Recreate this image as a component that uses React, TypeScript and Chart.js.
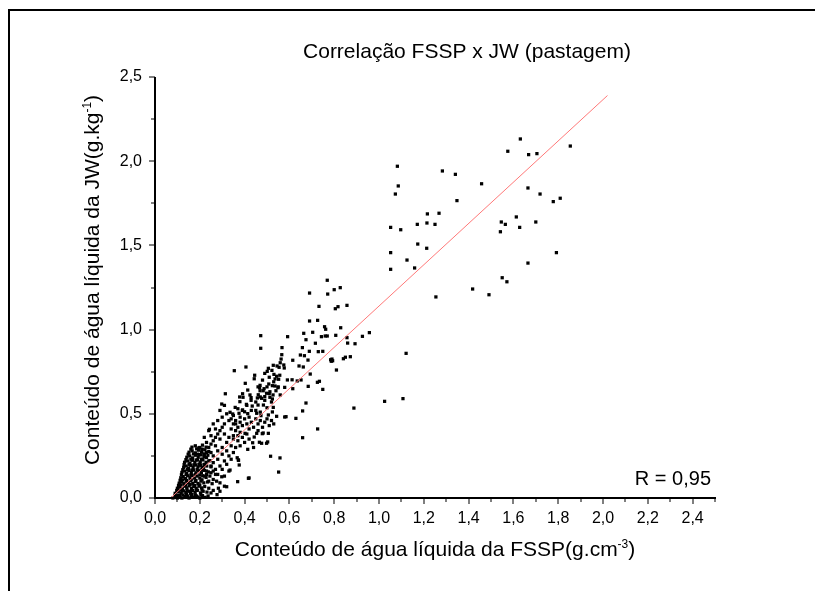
import React, { useEffect, useRef } from "react";
import { Chart, registerables } from "chart.js";

Chart.register(...registerables);

const FAMILY = '"Liberation Sans", Arial, sans-serif';

const TITLE = "Correlação FSSP x JW (pastagem)";
const X_TITLE = "Conteúdo de água líquida da FSSP(g.cm";
const X_TITLE_SUP = "-3";
const Y_TITLE = "Conteúdo de água líquida da JW(g.kg";
const Y_TITLE_SUP = "-1";
const TITLE_TAIL = ")";
const R_LABEL = "R = 0,95";

const X_MAJOR = [0, 0.2, 0.4, 0.6, 0.8, 1.0, 1.2, 1.4, 1.6, 1.8, 2.0, 2.2, 2.4];
const X_MINOR = [0.1, 0.3, 0.5, 0.7, 0.9, 1.1, 1.3, 1.5, 1.7, 1.9, 2.1, 2.3, 2.5];
const Y_MAJOR = [0, 0.5, 1.0, 1.5, 2.0, 2.5];
const Y_MINOR = [0.25, 0.75, 1.25, 1.75, 2.25];

// regression line end points
const FIT_X = [0.07, 2.02];
const FIT_Y = [0.0, 2.39];

// dense cluster near origin  [FSSP, JW]
const originCluster: number[][] = [
  [0.08, 0.0], [0.095, 0.01], [0.1, 0.0], [0.112, 0.015], [0.12, 0.0], [0.133, 0.008], [0.14, 0.02], [0.152, 0.0], [0.161, 0.012], [0.172, 0.004], [0.18, 0.018], [0.191, 0.006], [0.2, 0.0], [0.212, 0.014], [0.224, 0.004],
  [0.09, 0.028], [0.104, 0.036], [0.117, 0.03], [0.128, 0.042], [0.138, 0.032], [0.149, 0.04], [0.158, 0.028], [0.168, 0.044], [0.179, 0.034], [0.19, 0.046], [0.203, 0.03], [0.215, 0.04], [0.232, 0.035],
  [0.1, 0.058], [0.111, 0.066], [0.122, 0.055], [0.131, 0.07], [0.142, 0.06], [0.152, 0.072], [0.163, 0.058], [0.173, 0.068], [0.184, 0.056], [0.196, 0.07], [0.208, 0.06], [0.222, 0.068], [0.24, 0.058],
  [0.108, 0.088], [0.119, 0.096], [0.129, 0.085], [0.139, 0.1], [0.148, 0.09], [0.158, 0.102], [0.169, 0.087], [0.18, 0.098], [0.192, 0.086], [0.205, 0.1], [0.218, 0.09], [0.235, 0.095], [0.255, 0.085],
  [0.115, 0.12], [0.126, 0.128], [0.136, 0.116], [0.146, 0.132], [0.156, 0.12], [0.166, 0.134], [0.176, 0.118], [0.188, 0.13], [0.2, 0.118], [0.213, 0.132], [0.228, 0.122], [0.245, 0.13],
  [0.12, 0.152], [0.132, 0.16], [0.142, 0.148], [0.152, 0.164], [0.162, 0.152], [0.172, 0.166], [0.183, 0.15], [0.195, 0.162], [0.207, 0.15], [0.221, 0.164], [0.238, 0.155], [0.26, 0.16],
  [0.128, 0.182], [0.139, 0.19], [0.15, 0.178], [0.16, 0.194], [0.17, 0.182], [0.181, 0.196], [0.192, 0.184], [0.204, 0.194], [0.216, 0.18], [0.231, 0.19], [0.25, 0.185],
  [0.132, 0.212], [0.145, 0.22], [0.156, 0.208], [0.167, 0.224], [0.178, 0.212], [0.19, 0.226], [0.202, 0.214], [0.214, 0.226], [0.228, 0.212], [0.245, 0.222],
  [0.142, 0.242], [0.155, 0.25], [0.168, 0.238], [0.18, 0.254], [0.193, 0.242], [0.206, 0.256], [0.22, 0.244], [0.236, 0.254],
  [0.152, 0.272], [0.166, 0.28], [0.18, 0.268], [0.194, 0.284], [0.208, 0.272], [0.223, 0.286], [0.24, 0.276],
  [0.165, 0.302], [0.18, 0.31], [0.196, 0.298], [0.212, 0.314], [0.228, 0.302],
  [0.26, 0.045], [0.275, 0.1], [0.29, 0.04], [0.27, 0.14], [0.25, 0.03],
  [0.09, 0.015], [0.105, 0.015], [0.125, 0.018], [0.145, 0.012], [0.165, 0.02], [0.185, 0.012], [0.205, 0.018],
  [0.097, 0.045], [0.11, 0.048], [0.122, 0.044], [0.143, 0.047], [0.163, 0.043], [0.185, 0.045], [0.21, 0.048],
  [0.105, 0.075], [0.116, 0.078], [0.136, 0.076], [0.157, 0.08], [0.178, 0.074], [0.2, 0.078],
  [0.112, 0.105], [0.123, 0.108], [0.142, 0.104], [0.162, 0.108], [0.183, 0.105], [0.21, 0.108],
  [0.118, 0.138], [0.139, 0.14], [0.16, 0.136], [0.18, 0.14], [0.2, 0.137], [0.23, 0.14],
  [0.124, 0.168], [0.145, 0.17], [0.166, 0.166], [0.188, 0.17], [0.21, 0.168],
  [0.13, 0.198], [0.152, 0.2], [0.174, 0.197], [0.196, 0.2], [0.22, 0.198],
  [0.138, 0.228], [0.16, 0.23], [0.184, 0.226], [0.208, 0.23],
  [0.148, 0.26], [0.172, 0.262], [0.198, 0.258], [0.22, 0.262],
  [0.16, 0.29], [0.186, 0.292], [0.21, 0.288],
];

// lower band
const lowerBand: number[][] = [
  [0.2, 0.2], [0.21, 0.23], [0.22, 0.25], [0.23, 0.27], [0.24, 0.3], [0.25, 0.32], [0.26, 0.34], [0.27, 0.36], [0.28, 0.38], [0.29, 0.4], [0.3, 0.42], [0.31, 0.44],
  [0.22, 0.2], [0.24, 0.22], [0.26, 0.25], [0.28, 0.28], [0.3, 0.3], [0.32, 0.33], [0.33, 0.36], [0.31, 0.38], [0.29, 0.35], [0.27, 0.31], [0.25, 0.27], [0.23, 0.24],
  [0.21, 0.18], [0.26, 0.21], [0.28, 0.23], [0.3, 0.26], [0.32, 0.28], [0.34, 0.31], [0.33, 0.25], [0.31, 0.22], [0.29, 0.19], [0.27, 0.17], [0.25, 0.15],
  [0.3, 0.17], [0.32, 0.2], [0.34, 0.23], [0.35, 0.27], [0.36, 0.3], [0.27, 0.41], [0.25, 0.37], [0.23, 0.33], [0.21, 0.29], [0.24, 0.4], [0.26, 0.44],
  [0.28, 0.46], [0.3, 0.48], [0.32, 0.5], [0.29, 0.52], [0.33, 0.46], [0.35, 0.49], [0.22, 0.36], [0.2, 0.3], [0.19, 0.26], [0.25, 0.19], [0.23, 0.16],
  [0.28, 0.14], [0.31, 0.13], [0.33, 0.16], [0.26, 0.11], [0.24, 0.1], [0.29, 0.09], [0.31, 0.07], [0.22, 0.13], [0.35, 0.35], [0.37, 0.37], [0.34, 0.41],
  [0.36, 0.44], [0.38, 0.48], [0.39, 0.52], [0.37, 0.53], [0.41, 0.55], [0.31, 0.55],
];

// middle band
const middleBand: number[][] = [
  [0.445, 0.729], [0.443, 0.708], [0.522, 0.758], [0.531, 0.734], [0.51, 0.717], [0.536, 0.707], [0.552, 0.705], [0.591, 0.701], [0.612, 0.702], [0.635, 0.695],
  [0.652, 0.701], [0.508, 0.677], [0.524, 0.667], [0.536, 0.665], [0.549, 0.655], [0.579, 0.657], [0.615, 0.649], [0.684, 0.663], [0.725, 0.687], [0.734, 0.693],
  [0.749, 0.645], [0.469, 0.669], [0.469, 0.637], [0.483, 0.637], [0.498, 0.622], [0.513, 0.631], [0.527, 0.612], [0.54, 0.637], [0.513, 0.598], [0.461, 0.613],
  [0.457, 0.594], [0.429, 0.596], [0.545, 0.784], [0.354, 0.756], [0.406, 0.778], [0.49, 0.74], [0.543, 0.723], [0.557, 0.729], [0.403, 0.681], [0.467, 0.655],
  [0.487, 0.649], [0.314, 0.619], [0.391, 0.619], [0.378, 0.6], [0.393, 0.598], [0.414, 0.641], [0.424, 0.612], [0.476, 0.592], [0.49, 0.602], [0.524, 0.588],
  [0.559, 0.612], [0.298, 0.558], [0.379, 0.572], [0.408, 0.556], [0.429, 0.58], [0.434, 0.546], [0.46, 0.552], [0.484, 0.552], [0.5, 0.536], [0.528, 0.538],
  [0.391, 0.523], [0.358, 0.538], [0.335, 0.509], [0.347, 0.499], [0.375, 0.503], [0.4, 0.512], [0.414, 0.501], [0.454, 0.503], [0.473, 0.489], [0.506, 0.493],
  [0.524, 0.511], [0.543, 0.485], [0.585, 0.483], [0.629, 0.473], [0.659, 0.517], [0.674, 0.564], [0.579, 0.481], [0.726, 0.41], [0.659, 0.358], [0.516, 0.248],
  [0.558, 0.238], [0.552, 0.154], [0.42, 0.119], [0.369, 0.097], [0.277, 0.02], [0.237, 0.012], [0.466, 0.331], [0.436, 0.328], [0.503, 0.333], [0.367, 0.239],
  [0.373, 0.224], [0.414, 0.289], [0.479, 0.382], [0.443, 0.362], [0.402, 0.384], [0.454, 0.384], [0.483, 0.386], [0.506, 0.384], [0.476, 0.325], [0.498, 0.325],
  [0.372, 0.226], [0.376, 0.196], [0.417, 0.117], [0.32, 0.067], [0.283, 0.058], [0.335, 0.166], [0.298, 0.126], [0.243, 0.408],
  [0.34, 0.47], [0.35, 0.44], [0.36, 0.46], [0.37, 0.42], [0.38, 0.45], [0.39, 0.43], [0.4, 0.47], [0.41, 0.44], [0.42, 0.41], [0.38, 0.39], [0.36, 0.4],
  [0.35, 0.37], [0.39, 0.36], [0.41, 0.38], [0.43, 0.45], [0.42, 0.48], [0.44, 0.42], [0.4, 0.33], [0.38, 0.31], [0.37, 0.34], [0.42, 0.35], [0.44, 0.3],
  [0.46, 0.44], [0.45, 0.47], [0.47, 0.46], [0.48, 0.42], [0.49, 0.45], [0.5, 0.47], [0.51, 0.43], [0.46, 0.4], [0.52, 0.46], [0.53, 0.44], [0.47, 0.51],
  [0.45, 0.52], [0.43, 0.52], [0.45, 0.57], [0.47, 0.6], [0.49, 0.58], [0.51, 0.62], [0.52, 0.57], [0.5, 0.66], [0.48, 0.7], [0.46, 0.66], [0.53, 0.69], [0.55, 0.66],
];

// upper band
const upperBand: number[][] = [
  [0.8, 1.237], [0.827, 1.249], [0.805, 1.124], [0.817, 1.136], [0.857, 1.144], [0.829, 1.011], [0.807, 0.966], [0.857, 0.952], [0.86, 0.92], [0.893, 0.916],
  [0.926, 0.96], [0.957, 0.982], [0.787, 0.812], [0.793, 0.815], [0.841, 0.827], [0.85, 0.836], [0.872, 0.839], [0.81, 0.76], [0.769, 1.293], [0.69, 1.217],
  [0.771, 1.211], [0.732, 1.138], [0.69, 1.051], [0.726, 1.055], [0.757, 1.017], [0.762, 1.002], [0.664, 0.978], [0.704, 0.984], [0.743, 0.958], [0.76, 0.962],
  [0.769, 0.962], [0.674, 0.94], [0.592, 0.958], [0.472, 0.964], [0.472, 0.889], [0.567, 0.893], [0.658, 0.893], [0.716, 0.919], [0.729, 0.869], [0.749, 0.871],
  [0.689, 0.871], [0.566, 0.851], [0.563, 0.825], [0.649, 0.849], [0.667, 0.845], [0.683, 0.819], [0.615, 0.818], [0.559, 0.803], [0.575, 0.79], [0.577, 0.772],
  [0.554, 0.776], [0.528, 0.788], [0.506, 0.77], [0.501, 0.752], [0.643, 0.784], [0.662, 0.778], [0.693, 0.736], [0.784, 0.821], [0.79, 0.825],
];

// sparse high values and outliers
const highValues: number[][] = [
  [1.082, 1.97], [1.086, 1.853], [1.073, 1.805], [1.283, 1.942], [1.341, 1.922], [1.458, 1.866], [1.631, 2.132], [1.575, 2.059], [1.668, 2.039], [1.705, 2.045],
  [1.854, 2.09], [1.348, 1.766], [1.665, 1.841], [1.719, 1.805], [1.778, 1.76], [1.809, 1.78], [1.216, 1.687], [1.268, 1.691], [1.171, 1.625], [1.214, 1.633],
  [1.25, 1.625], [1.052, 1.607], [1.097, 1.593], [1.546, 1.639], [1.564, 1.625], [1.613, 1.669], [1.628, 1.607], [1.542, 1.581], [1.7, 1.639], [1.173, 1.508],
  [1.213, 1.483], [1.052, 1.457], [1.792, 1.457], [1.125, 1.413], [1.159, 1.366], [1.052, 1.358], [1.665, 1.395], [1.55, 1.308], [1.571, 1.284], [1.418, 1.241],
  [1.491, 1.207], [1.254, 1.194], [1.121, 0.859], [1.025, 0.574], [1.107, 0.59], [0.888, 0.534],
];

const fmt = (v: number) => v.toFixed(1).replace(".", ",");

function drawSupText(
  ctx: CanvasRenderingContext2D,
  base: string,
  sup: string,
  tail: string,
  cx: number,
  y: number,
  size: number,
  supSize: number,
  rise: number
) {
  const big = `${size}px ${FAMILY}`;
  const small = `${supSize}px ${FAMILY}`;
  ctx.font = big;
  const wb = ctx.measureText(base).width;
  const wt = ctx.measureText(tail).width;
  ctx.font = small;
  const ws = ctx.measureText(sup).width;
  const sx = cx - (wb + ws + wt) / 2;
  ctx.textAlign = "left";
  ctx.textBaseline = "alphabetic";
  ctx.font = big;
  ctx.fillText(base, sx, y);
  ctx.font = small;
  ctx.fillText(sup, sx + wb, y - rise);
  ctx.font = big;
  ctx.fillText(tail, sx + wb + ws, y);
}

const decorPlugin = {
  id: "decor",
  afterDraw(chart: any) {
    const ctx: CanvasRenderingContext2D = chart.ctx;
    const xs = chart.scales.x;
    const ys = chart.scales.y;
    ctx.save();
    ctx.fillStyle = "#000";
    // page frame
    ctx.fillRect(8, 9, 807, 2);
    ctx.fillRect(8, 9, 2, 582);
    // axes
    const x0 = Math.round(xs.getPixelForValue(0));
    const x1 = Math.round(xs.getPixelForValue(2.5));
    const y0 = Math.round(ys.getPixelForValue(0));
    const y1 = Math.round(ys.getPixelForValue(2.5));
    ctx.fillRect(x0 - 1, y1, 2, y0 - y1 + 1);
    ctx.fillRect(x0 - 1, y0 - 1, x1 - x0 + 2, 2);
    // ticks
    X_MAJOR.forEach((v) => {
      const p = Math.round(xs.getPixelForValue(v));
      ctx.fillRect(p - 0.5, y0, 1, 6);
    });
    X_MINOR.forEach((v) => {
      const p = Math.round(xs.getPixelForValue(v));
      ctx.fillRect(p - 0.5, y0, 1, 4);
    });
    Y_MAJOR.forEach((v) => {
      const p = Math.round(ys.getPixelForValue(v));
      ctx.fillRect(x0 - 6, p - 0.5, 6, 1);
    });
    Y_MINOR.forEach((v) => {
      const p = Math.round(ys.getPixelForValue(v));
      ctx.fillRect(x0 - 4, p - 0.5, 4, 1);
    });
    // texts
    ctx.fillStyle = "#000";
    ctx.font = `21px ${FAMILY}`;
    ctx.textAlign = "center";
    ctx.textBaseline = "alphabetic";
    ctx.fillText(TITLE, 467, 58);
    drawSupText(ctx, X_TITLE, X_TITLE_SUP, TITLE_TAIL, 435, 556, 21, 12, 8);
    ctx.save();
    ctx.translate(99, 280);
    ctx.rotate(-Math.PI / 2);
    drawSupText(ctx, Y_TITLE, Y_TITLE_SUP, TITLE_TAIL, 0, 0, 21, 12, 8);
    ctx.restore();
    ctx.font = `20px ${FAMILY}`;
    ctx.textAlign = "right";
    ctx.fillText(R_LABEL, 711, 485);
    ctx.restore();
  },
};

const toPoints = (arr: number[][]) => arr.map(([x, y]) => ({ x, y }));

export default function App() {
  const ref = useRef<HTMLCanvasElement | null>(null);
  useEffect(() => {
    if (!ref.current) return;
    const allPoints = [
      ...toPoints(originCluster),
      ...toPoints(lowerBand),
      ...toPoints(middleBand),
      ...toPoints(upperBand),
      ...toPoints(highValues),
    ];
    const chart = new Chart(ref.current, {
      type: "scatter",
      data: {
        datasets: [
          {
            type: "line",
            label: "fit",
            data: FIT_X.map((x, i) => ({ x, y: FIT_Y[i] })),
            borderColor: "#ff7878",
            borderWidth: 1,
            pointRadius: 0,
            fill: false,
            order: 0,
            clip: false,
          } as any,
          {
            label: "JW x FSSP",
            data: allPoints,
            pointStyle: "rect",
            pointRadius: 2.3,
            pointBorderWidth: 0,
            backgroundColor: "#000",
            borderColor: "#000",
            order: 1,
            clip: false,
          } as any,
        ],
      },
      options: {
        responsive: false,
        animation: false,
        events: [],
        layout: { padding: { left: 0, top: 77, right: 100, bottom: 0 } },
        plugins: { legend: { display: false }, title: { display: false }, tooltip: { enabled: false } },
        scales: {
          x: {
            type: "linear",
            min: 0,
            max: 2.5,
            afterFit: (s: any) => {
              s.height = 93;
            },
            afterBuildTicks: (s: any) => {
              s.ticks = X_MAJOR.map((v) => ({ value: v }));
            },
            grid: { display: true, drawOnChartArea: false, drawTicks: false },
            border: { display: false },
            ticks: {
              padding: 11,
              color: "#000",
              font: { family: FAMILY, size: 16 },
              maxRotation: 0,
              autoSkip: false,
              callback: (v: any) => fmt(Number(v)),
            },
          },
          y: {
            type: "linear",
            min: 0,
            max: 2.5,
            afterFit: (s: any) => {
              s.width = 155;
            },
            afterBuildTicks: (s: any) => {
              s.ticks = Y_MAJOR.map((v) => ({ value: v }));
            },
            grid: { display: true, drawOnChartArea: false, drawTicks: false },
            border: { display: false },
            ticks: {
              padding: 13,
              color: "#000",
              font: { family: FAMILY, size: 16 },
              autoSkip: false,
              callback: (v: any) => fmt(Number(v)),
            },
          },
        },
      },
      plugins: [decorPlugin],
    });
    return () => chart.destroy();
  }, []);
  return (
    <div style={{ position: "fixed", left: 0, top: 0, width: 815, height: 591, background: "#fff" }}>
      <canvas ref={ref} width={815} height={591} style={{ display: "block", width: 815, height: 591 }} />
    </div>
  );
}
